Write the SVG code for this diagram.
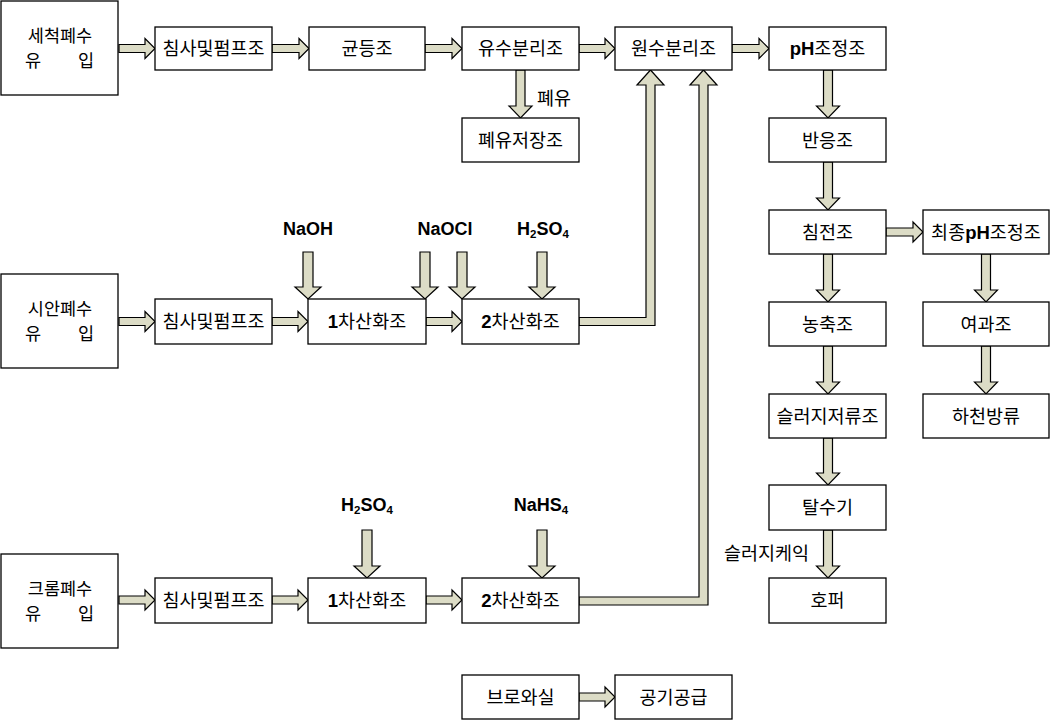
<svg xmlns="http://www.w3.org/2000/svg" width="1051" height="720" viewBox="0 0 1051 720">
<style>
.box{fill:#fff;stroke:#000;stroke-width:1.3}
.arr{fill:#dcdcc6;stroke:#000;stroke-width:1.2;stroke-linejoin:miter}
.t{font-family:"Noto Sans CJK KR","Noto Sans CJK SC",sans-serif;font-size:18.5px;text-anchor:middle;fill:#000}
.ts{font-family:"Noto Sans CJK KR","Noto Sans CJK SC",sans-serif;font-size:18.5px;fill:#000}
.in{font-family:"Noto Sans CJK KR","Noto Sans CJK SC",sans-serif;font-size:17.5px;fill:#000}
.b{font-family:"Liberation Sans",Arial,sans-serif;font-weight:bold}
.chem{font-family:"Liberation Sans",Arial,sans-serif;font-weight:bold;font-size:18px;text-anchor:middle;fill:#000}
</style>
<rect width="1051" height="720" fill="#fff"/>
<g id="connectors">
<path class="arr" d="M119,44.5 H145 V38.5 L155,48.5 L145,58.5 V52.5 H119 Z"/>
<path class="arr" d="M272,44.5 H299 V38.5 L309,48.5 L299,58.5 V52.5 H272 Z"/>
<path class="arr" d="M425,44.5 H452 V38.5 L462,48.5 L452,58.5 V52.5 H425 Z"/>
<path class="arr" d="M579,44.5 H605 V38.5 L615,48.5 L605,58.5 V52.5 H579 Z"/>
<path class="arr" d="M732,44.5 H759 V38.5 L769,48.5 L759,58.5 V52.5 H732 Z"/>
<path class="arr" d="M119,317.5 H145 V311.5 L155,321.5 L145,331.5 V325.5 H119 Z"/>
<path class="arr" d="M272,317.5 H298 V311.5 L308,321.5 L298,331.5 V325.5 H272 Z"/>
<path class="arr" d="M426,317.5 H452 V311.5 L462,321.5 L452,331.5 V325.5 H426 Z"/>
<path class="arr" d="M119,596 H145 V590 L155,600 L145,610 V604 H119 Z"/>
<path class="arr" d="M272,596 H298 V590 L308,600 L298,610 V604 H272 Z"/>
<path class="arr" d="M426,596 H452 V590 L462,600 L452,610 V604 H426 Z"/>
<path class="arr" d="M886,228 H913 V222 L923,232 L913,242 V236 H886 Z"/>
<path class="arr" d="M579,693 H605 V687 L615,697 L605,707 V701 H579 Z"/>
<path class="arr" d="M516,70 H525 V106 H532 L520.5,118 L509,106 H516 Z"/>
<path class="arr" d="M823.5,70 H832.5 V106 H839.5 L828,118 L816.5,106 H823.5 Z"/>
<path class="arr" d="M823.5,162 H832.5 V198 H839.5 L828,210 L816.5,198 H823.5 Z"/>
<path class="arr" d="M823.5,254 H832.5 V290 H839.5 L828,302 L816.5,290 H823.5 Z"/>
<path class="arr" d="M823.5,346 H832.5 V382 H839.5 L828,394 L816.5,382 H823.5 Z"/>
<path class="arr" d="M823.5,438 H832.5 V473 H839.5 L828,485 L816.5,473 H823.5 Z"/>
<path class="arr" d="M823.5,530 H832.5 V566 H839.5 L828,578 L816.5,566 H823.5 Z"/>
<path class="arr" d="M981.5,254 H990.5 V290 H997.5 L986,302 L974.5,290 H981.5 Z"/>
<path class="arr" d="M981.5,346 H990.5 V382 H997.5 L986,394 L974.5,382 H981.5 Z"/>
<path class="arr" d="M303,252 H313 V287 H321 L308,299 L295,287 H303 Z"/>
<path class="arr" d="M420,252 H430 V287 H438 L425,299 L412,287 H420 Z"/>
<path class="arr" d="M457,252 H467 V287 H475 L462,299 L449,287 H457 Z"/>
<path class="arr" d="M537,252 H547 V287 H555 L542,299 L529,287 H537 Z"/>
<path class="arr" d="M362,530 H372 V566 H380 L367,578 L354,566 H362 Z"/>
<path class="arr" d="M537,530 H547 V566 H555 L542,578 L529,566 H537 Z"/>
<path class="arr" d="M579,317.5 H646 V85 H637 L650.5,70 L664,85 H655 V325.5 H579 Z"/>
<path class="arr" d="M579,597 H699 V85 H690 L703.5,70 L717,85 H708 V605 H579 Z"/>
</g>
<g id="labels">
<text class="ts" x="537" y="105">폐유</text>
<text class="ts" x="724" y="560">슬러지케익</text>
<text class="chem" x="308" y="235">NaOH</text>
<text class="chem" x="445" y="235">NaOCl</text>
<text class="chem" x="543" y="235">H<tspan font-size="11.5" dy="3">2</tspan><tspan dy="-3">SO</tspan><tspan font-size="11.5" dy="3">4</tspan></text>
<text class="chem" x="367" y="511">H<tspan font-size="11.5" dy="3">2</tspan><tspan dy="-3">SO</tspan><tspan font-size="11.5" dy="3">4</tspan></text>
<text class="chem" x="541" y="511">NaHS<tspan font-size="11.5" dy="3">4</tspan></text>
</g>
<g id="n-inlet1"><rect class="box" x="1" y="1" width="117" height="94"/><text class="in" x="60" y="42" text-anchor="middle">세척폐수</text><text class="in" y="67"><tspan x="25">유</tspan><tspan x="78">입</tspan></text></g>
<g id="n-inlet2"><rect class="box" x="1" y="274" width="117" height="94"/><text class="in" x="60" y="315" text-anchor="middle">시안폐수</text><text class="in" y="340"><tspan x="25">유</tspan><tspan x="78">입</tspan></text></g>
<g id="n-inlet3"><rect class="box" x="1" y="554" width="117" height="94"/><text class="in" x="60" y="595" text-anchor="middle">크롬폐수</text><text class="in" y="620"><tspan x="25">유</tspan><tspan x="78">입</tspan></text></g>
<g id="n-grit1"><rect class="box" x="155" y="27" width="117" height="43"/><text class="t" x="213.5" y="55">침사및펌프조</text></g>
<g id="n-equal"><rect class="box" x="309" y="27" width="116" height="43"/><text class="t" x="367" y="55">균등조</text></g>
<g id="n-oilsep"><rect class="box" x="462" y="27" width="117" height="43"/><text class="t" x="520.5" y="55">유수분리조</text></g>
<g id="n-rawsep"><rect class="box" x="615" y="27" width="117" height="43"/><text class="t" x="673.5" y="55">원수분리조</text></g>
<g id="n-ph"><rect class="box" x="769" y="27" width="117" height="43"/><text class="t" x="827.5" y="55"><tspan class="b">pH</tspan>조정조</text></g>
<g id="n-oiltank"><rect class="box" x="462" y="118" width="117" height="44"/><text class="t" x="520.5" y="146.5">폐유저장조</text></g>
<g id="n-react"><rect class="box" x="769" y="118" width="117" height="44"/><text class="t" x="827.5" y="146.5">반응조</text></g>
<g id="n-settle"><rect class="box" x="769" y="210" width="117" height="44"/><text class="t" x="827.5" y="238.5">침전조</text></g>
<g id="n-finalph"><rect class="box" x="923" y="210" width="126" height="44"/><text class="t" x="986" y="238.5">최종<tspan class="b">pH</tspan>조정조</text></g>
<g id="n-thick"><rect class="box" x="769" y="302" width="117" height="44"/><text class="t" x="827.5" y="330.5">농축조</text></g>
<g id="n-filter"><rect class="box" x="923" y="302" width="126" height="44"/><text class="t" x="986" y="330.5">여과조</text></g>
<g id="n-sludge"><rect class="box" x="769" y="394" width="117" height="44"/><text class="t" x="827.5" y="422.5">슬러지저류조</text></g>
<g id="n-river"><rect class="box" x="923" y="394" width="126" height="44"/><text class="t" x="986" y="422.5">하천방류</text></g>
<g id="n-dewater"><rect class="box" x="769" y="485" width="117" height="45"/><text class="t" x="827.5" y="514">탈수기</text></g>
<g id="n-hopper"><rect class="box" x="769" y="578" width="117" height="45"/><text class="t" x="827.5" y="607">호퍼</text></g>
<g id="n-grit2"><rect class="box" x="155" y="299" width="117" height="45"/><text class="t" x="213.5" y="328">침사및펌프조</text></g>
<g id="n-ox1a"><rect class="box" x="308" y="299" width="118" height="45"/><text class="t" x="367" y="328"><tspan class="b">1</tspan>차산화조</text></g>
<g id="n-ox2a"><rect class="box" x="462" y="299" width="117" height="45"/><text class="t" x="520.5" y="328"><tspan class="b">2</tspan>차산화조</text></g>
<g id="n-grit3"><rect class="box" x="155" y="578" width="117" height="45"/><text class="t" x="213.5" y="607">침사및펌프조</text></g>
<g id="n-ox1b"><rect class="box" x="308" y="578" width="118" height="45"/><text class="t" x="367" y="607"><tspan class="b">1</tspan>차산화조</text></g>
<g id="n-ox2b"><rect class="box" x="462" y="578" width="117" height="45"/><text class="t" x="520.5" y="607"><tspan class="b">2</tspan>차산화조</text></g>
<g id="n-blower"><rect class="box" x="462" y="675" width="117" height="44"/><text class="t" x="520.5" y="703.5">브로와실</text></g>
<g id="n-air"><rect class="box" x="615" y="675" width="117" height="44"/><text class="t" x="673.5" y="703.5">공기공급</text></g>
</svg>
